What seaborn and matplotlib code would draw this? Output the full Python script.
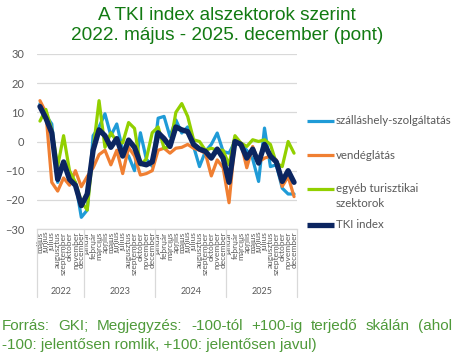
import numpy as np
import pandas as pd
import matplotlib
matplotlib.use("Agg")
import matplotlib.pyplot as plt
import matplotlib.transforms as mtransforms
from matplotlib.lines import Line2D
import seaborn as sns

# Hónapnevek és évek (2022. május - 2025. december)
honapok = ["január", "február", "március", "április", "május", "június",
           "július", "augusztus", "szeptember", "október", "november", "december"]
evek = [2022, 2023, 2024, 2025]
kezdo_honap = {2022: 5}

# Alszektorok (pont)
szallashely = [13, 9, 6, -14, -7, -12, -14, -26, -23.5, 2, 5, 9.5,
               2, 6, -3, -5, -10, 3, -6, -8.5, 8, 8.6, 1.7, 7.4,
               2.9, 5, -1.7, -8.6, -3.4, -1, 2.9, -3.4, -4, 0, -1, -3,
               -6, -13.7, 4.6, -8.6, -8, -16, -18, -18]
vendeglatas = [14, 10, -14, -17, -12.5, -15, -10, -15.5, -12, -9, -4.5, -3,
               -8, -3, -11, -2, -5, -11.5, -11, -10, -3, -2.3, -4, -2.3,
               -2, -1, -2.3, -3, -4, -11.8, -6.3, -9, -21, 0, -0.5, -9,
               -1.7, -7, -5.7, -5, -6.3, -15.4, -12, -18.9]
egyeb = [7, 11, 4, -8.5, 2, -10, -14, -20.5, -23.5, -3, 14, -2,
         3, 0, -0.5, 6.5, 4.5, -8, -6, 3, 5, -2.3, -1.7, 10,
         13, 8.6, 0.6, 0, -3, -2.3, -3, -3, -8, 2, -0.5, -1.7,
         0.6, 0, 0.6, -1, -7.4, -8.6, 0, -4]
tki = [12, 8, 3, -13, -7, -13, -15, -22, -18, -3, 4, 2,
       -2, 1, -5, 0.5, -2, -7.5, -8, -7, 3, 1, -1.7, 5,
       4, 3.4, -1, -2.6, -3.4, -5.7, -2.6, -5.7, -14, 0, -1, -5.7,
       -2.6, -7.4, -1, -5, -7, -13.7, -10, -14]

cimkek = []
ev_hossz = []
for ev in evek:
    h = honapok[kezdo_honap.get(ev, 1) - 1:]
    cimkek += h
    ev_hossz.append(len(h))

df = pd.DataFrame({
    "i": np.arange(len(cimkek)),
    "szálláshely-szolgáltatás": szallashely,
    "vendéglátás": vendeglatas,
    "egyéb turisztikai\nszektorok": egyeb,
    "TKI index": tki,
})
long_df = df.melt(id_vars="i", var_name="sor", value_name="pont")

sorok = ["szálláshely-szolgáltatás", "vendéglátás", "egyéb turisztikai\nszektorok", "TKI index"]
szinek = ["#1F9BD7", "#F07F32", "#92D000", "#0B2560"]
vastag = [2.3, 2.3, 2.3, 3.8]

sns.set_style("white")
plt.rcParams['font.family'] = ['Lato', 'DejaVu Sans']

fig = plt.figure(figsize=(4.54, 3.62), dpi=100)
ax = fig.add_axes([37 / 454, 1 - 229 / 362, 260 / 454, 175 / 362])

for nev, szin, lw in zip(sorok, szinek, vastag):
    sns.lineplot(data=long_df[long_df["sor"] == nev], x="i", y="pont",
                 color=szin, linewidth=lw, ax=ax, legend=False)

szurke = "#595959"
racs = "#D9D9D9"
ax.set_xlim(-0.5, len(cimkek) - 0.5)
ax.set_ylim(-30, 30)
ax.set_yticks(range(-30, 31, 10))
ax.yaxis.grid(True, color=racs, linewidth=0.9)
ax.set_axisbelow(True)
for s in ["left", "right", "top"]:
    ax.spines[s].set_visible(False)
ax.spines["bottom"].set_color(racs)
ax.spines["bottom"].set_linewidth(0.9)
ax.set_xlabel("")
ax.set_ylabel("")
ax.set_xticks(range(len(cimkek)))
ax.set_xticklabels(cimkek, rotation=90, fontsize=6, color=szurke)
ax.tick_params(axis="x", length=0, pad=2)
ax.tick_params(axis="y", length=0, pad=9, labelsize=8, labelcolor=szurke)

# évek elválasztói és feliratai
trans = mtransforms.blended_transform_factory(ax.transData, ax.transAxes)
hatarok = np.concatenate([[0], np.cumsum(ev_hossz)]) - 0.5
for b in hatarok:
    ax.plot([b, b], [0, -0.39], transform=trans, color=racs, lw=0.9, clip_on=False)
for ev, a, b in zip(evek, hatarok[:-1], hatarok[1:]):
    ax.text((a + b) / 2, -0.355, str(ev), transform=trans, ha="center", va="center",
            fontsize=6.5, color=szurke)

# jelmagyarázat
leg_y = [121, 155, 189, 225]
for nev, szin, lw, y in zip(sorok, szinek, vastag, leg_y):
    fy = 1 - y / 362
    fig.add_artist(Line2D([307 / 454, 334 / 454], [fy, fy], color=szin, lw=lw,
                          solid_capstyle="butt", transform=fig.transFigure))
    if "\n" in nev:
        fig.text(336 / 454, fy + 6 / 362, nev, ha="left", va="top",
                 fontsize=8.3, color=szurke, linespacing=1.45)
    else:
        fig.text(336 / 454, fy, nev, ha="left", va="center",
                 fontsize=8.3, color=szurke)

# cím
cim_szin = "#127A12"
fig.text(0.5, 1 - 16 / 362, "A TKI index alszektorok szerint", ha="center", va="center",
         fontsize=13.7, color=cim_szin, family="Liberation Sans")
fig.text(0.5, 1 - 36 / 362, "2022. május - 2025. december (pont)", ha="center", va="center",
         fontsize=13.7, color=cim_szin, family="Liberation Sans")

# forrás (első sor sorkizárva)
lab_szin = "#4F9A3A"
sor1 = "Forrás: GKI; Megjegyzés: -100-tól +100-ig terjedő skálán (ahol"
sor2 = "-100: jelentősen romlik, +100: jelentősen javul)"
renderer = fig.canvas.get_renderer()
szavak = sor1.split(" ")
tx = [fig.text(0, 1 - 326 / 362, w, ha="left", va="center", fontsize=11,
               color=lab_szin, family="Liberation Sans") for w in szavak]
szel = [t.get_window_extent(renderer).width for t in tx]
bal, jobb = 2, 452
hezag = (jobb - bal - sum(szel)) / (len(szavak) - 1)
x = bal
for t, w in zip(tx, szel):
    t.set_x(x / 454)
    x += w + hezag
fig.text(2 / 454, 1 - 345 / 362, sor2, ha="left", va="center", fontsize=11,
         color=lab_szin, family="Liberation Sans")

fig.savefig("out.png", dpi=100)
